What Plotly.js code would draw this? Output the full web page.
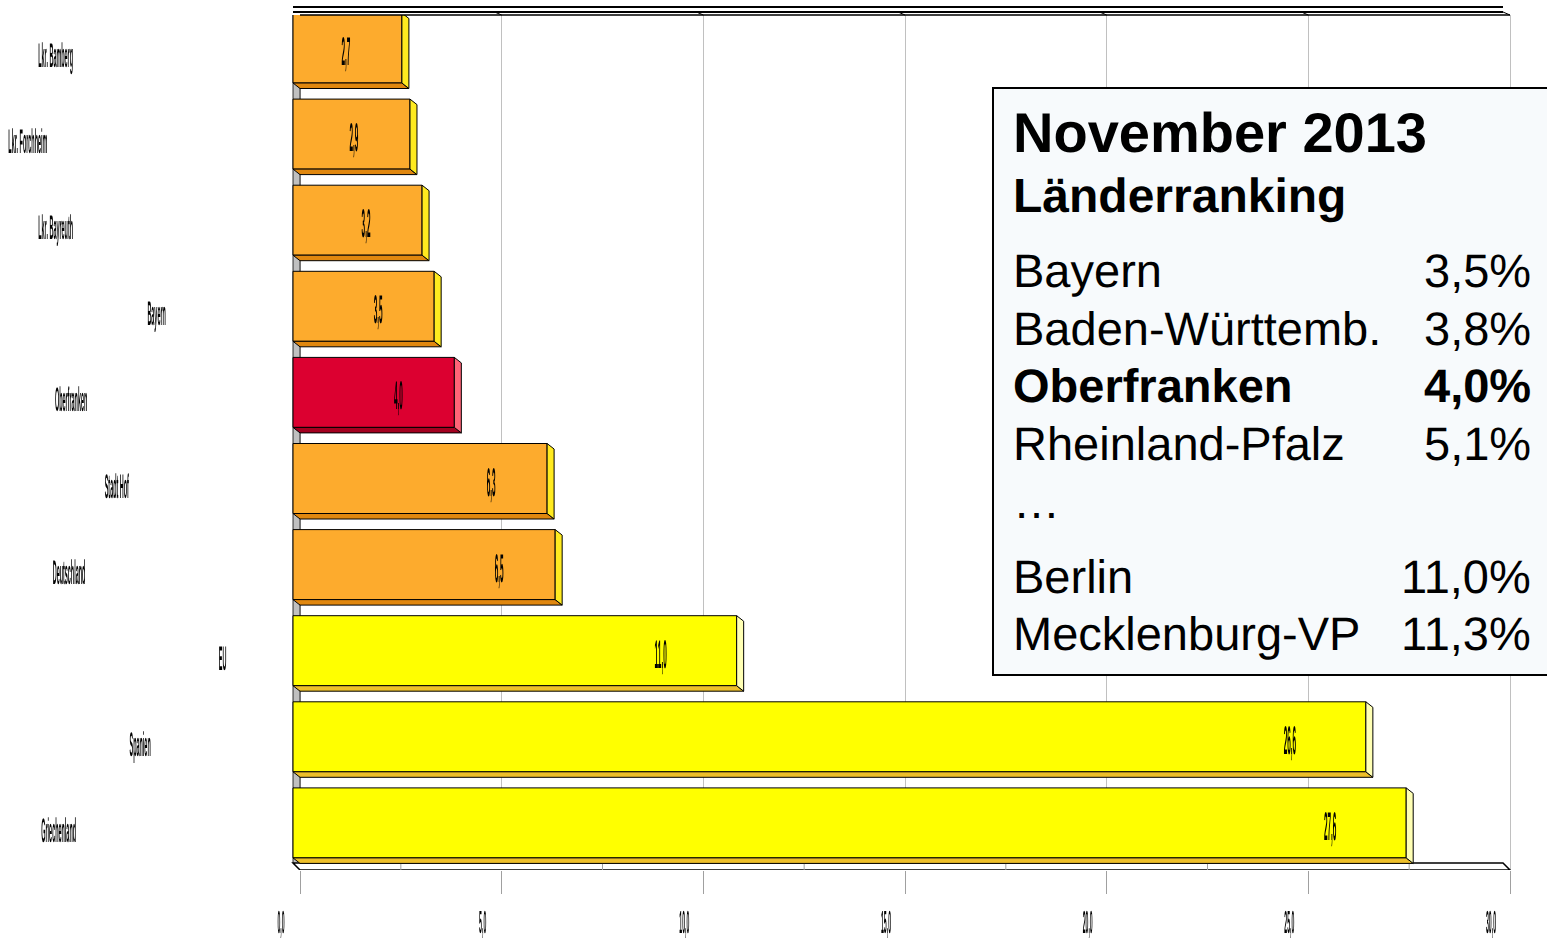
<!DOCTYPE html>
<html>
<head>
<meta charset="utf-8">
<script src="https://cdn.plot.ly/plotly-3.0.1.min.js"></script>
<style>
html,body{margin:0;padding:0;background:#fff;}
#chart{width:1547px;height:941px;}
#chart svg text{text-rendering:geometricPrecision;}
</style>
</head>
<body>
<div id="chart"></div>
<script>
// ---------------- DATA ----------------
const categories = ['Lkr. Bamberg','Lkr. Forchheim','Lkr. Bayreuth','Bayern','Oberfranken','Stadt Hof','Deutschland','EU','Spanien','Griechenland'];
const values = [2.7, 2.9, 3.2, 3.5, 4.0, 6.3, 6.5, 11.0, 26.6, 27.6];
const colorKeys = ['region','region','region','region','focus','region','region','intl','intl','intl'];
const xTickStep = 5;
const xMax = 30;

const rankingTitle = 'November 2013';
const rankingSubtitle = 'Länderranking';
const rankingNames = ['Bayern','Baden-Württemb.','Oberfranken','Rheinland-Pfalz','…','Berlin','Mecklenburg-VP'];
const rankingValues = [3.5, 3.8, 4.0, 5.1, null, 11.0, 11.3];
const rankingBold = [false, false, true, false, false, false, false];

// ---------------- STYLE ----------------
const palette = {
  region: {front:'#FDAB2D', side:'#FFEA1F', bottom:'#E0870F'},
  focus:  {front:'#DC0030', side:'#FF6478', bottom:'#A3001F'},
  intl:   {front:'#FFFF00', side:'#FFFFB4', bottom:'#EDBF2A'}
};
const catLabelCenterPx = [55, 28, 55, 156, 71, 117, 69, 222, 140, 58];
const rankingRowPx = [270, 328, 386, 443, 501, 576, 633];
const SQUASH = 0.16;

const W = 1547, H = 941;
const PLOT_L = 290, PLOT_R = 1515, PLOT_T = 15, PLOT_B = 870;
const X0PX = 300, PXU = 1210 / 30;
const ROW0PX = 48, ROWPX = 86.1;
const xRange = [(PLOT_L - X0PX) / PXU, (PLOT_R - X0PX) / PXU];
const yRange = [(PLOT_B - ROW0PX) / ROWPX, (PLOT_T - ROW0PX) / ROWPX];
const dX = 7 / PXU, dY = 5.5 / ROWPX, hh = 35 / ROWPX;
const fx = px => (px - PLOT_L) / (PLOT_R - PLOT_L);
const fy = py => 1 - (py - PLOT_T) / (PLOT_B - PLOT_T);
const yOfPx = py => (py - ROW0PX) / ROWPX;
const fmt = v => v.toFixed(1).replace('.', ',');

const idx = categories.map((c, i) => i);
const traces = [];

// bottom and side faces
idx.forEach(i => {
  const v = values[i], pal = palette[colorKeys[i]];
  const top = i - hh, bot = i + hh, xe = v - dX;
  traces.push({
    type:'scatter', mode:'lines', fill:'toself', fillcolor: pal.bottom,
    x:[-dX, xe, v, 0, -dX], y:[bot, bot, bot + dY, bot + dY, bot],
    line:{color:'#000', width:1}, hoverinfo:'skip', showlegend:false
  });
  traces.push({
    type:'scatter', mode:'lines', fill:'toself', fillcolor: pal.side,
    x:[xe, v, v, xe, xe], y:[top, top + dY, bot + dY, bot, top],
    line:{color:'#000', width:1}, hoverinfo:'skip', showlegend:false
  });
});

// front faces
traces.push({
  type:'bar', orientation:'h', y: idx, x: values, base: values.map(() => -dX),
  width: 2 * hh,
  marker:{color: colorKeys.map(k => palette[k].front), line:{color:'#000', width:1}},
  hoverinfo:'skip', showlegend:false, cliponaxis:false
});

// value labels
traces.push({
  type:'scatter', mode:'text',
  x: values.map(v => v - dX - (fmt(v).length > 3 ? 76 : 56) / PXU),
  y: idx.map(i => i + 7 / ROWPX),
  text: values.map(fmt), textposition:'middle center',
  textfont:{family:'Liberation Sans, Arial, sans-serif', size:40, color:'#000', weight:'bold'},
  hoverinfo:'skip', showlegend:false, cliponaxis:false
});

// ---------------- SHAPES ----------------
const shapes = [];
const yFront = yOfPx(863), yBack = yOfPx(PLOT_B);
const yTop0 = -hh;
shapes.push({type:'path', layer:'between', xref:'x', yref:'y',
  path:`M ${-dX},${yTop0} L 0,${yTop0 + dY} L 0,${yBack} L ${-dX},${yFront} Z`,
  fillcolor:'#C0C0C0', line:{color:'#000', width:0.8}});
shapes.push({type:'path', layer:'between', xref:'x', yref:'y',
  path:`M ${-dX},${yFront} L ${xMax - dX},${yFront} L ${xMax},${yBack} L 0,${yBack} Z`,
  fillcolor:'#FFFFFF', line:{color:'#000', width:1.5}});
for (let m = xTickStep / 2; m < xMax; m += xTickStep) {
  shapes.push({type:'line', layer:'between', xref:'x', yref:'y', x0:m, x1:m, y0:yFront, y1:yBack,
    line:{color:'#A0A0A0', width:1}});
}
shapes.push({type:'line', xref:'x', yref:'paper', x0:-dX, x1:xMax - dX, y0:fy(7), y1:fy(7), line:{color:'#000', width:2}});
shapes.push({type:'line', xref:'x', yref:'paper', x0:-dX, x1:xMax - dX, y0:fy(12), y1:fy(12), line:{color:'#000', width:2}});
shapes.push({type:'line', xref:'x', yref:'paper', x0:0, x1:xMax, y0:fy(15), y1:fy(15), line:{color:'#000', width:1.5}});
for (let g = xTickStep; g <= xMax; g += xTickStep) {
  shapes.push({type:'line', xref:'x', yref:'paper', x0:g - dX, x1:g, y0:fy(12), y1:fy(15), line:{color:'#000', width:1}});
}
shapes.push({type:'rect', layer:'above', xref:'paper', yref:'paper',
  x0:fx(993), x1:fx(1565), y0:fy(675), y1:fy(88),
  fillcolor:'#F7FAFC', line:{color:'#000', width:2}});

// ---------------- ANNOTATIONS ----------------
const ff = 'Liberation Sans, Arial, sans-serif';
const annotations = [];
categories.forEach((c, i) => {
  annotations.push({xref:'paper', yref:'y', x:fx(catLabelCenterPx[i]), y:i + 7 / ROWPX,
    xanchor:'center', yanchor:'middle', showarrow:false, text:'<b>' + c + '</b>',
    font:{family:ff, size:34, color:'#000'}});
});
annotations.push({xref:'paper', yref:'paper', x:fx(1011), y:fy(132), xanchor:'left', yanchor:'middle', showarrow:false,
  text:'<b>' + rankingTitle + '</b>', font:{family:ff, size:56, color:'#000'}});
annotations.push({xref:'paper', yref:'paper', x:fx(1011), y:fy(195), xanchor:'left', yanchor:'middle', showarrow:false,
  text:'<b>' + rankingSubtitle + '</b>', font:{family:ff, size:48, color:'#000'}});
rankingNames.forEach((n, k) => {
  const b = rankingBold[k];
  annotations.push({xref:'paper', yref:'paper', x:fx(1011), y:fy(rankingRowPx[k]), xanchor:'left', yanchor:'middle', showarrow:false,
    text: b ? '<b>' + n + '</b>' : n, font:{family:ff, size:47, color:'#000'}});
  if (rankingValues[k] !== null) {
    const t = fmt(rankingValues[k]) + '%';
    annotations.push({xref:'paper', yref:'paper', x:fx(1533), y:fy(rankingRowPx[k]), xanchor:'right', yanchor:'middle', showarrow:false,
      text: b ? '<b>' + t + '</b>' : t, font:{family:ff, size:47, color:'#000'}});
  }
});

const layout = {
  width:W, height:H,
  margin:{l:PLOT_L, r:W - PLOT_R, t:PLOT_T, b:H - PLOT_B, pad:0},
  paper_bgcolor:'#fff', plot_bgcolor:'#fff',
  separators:',.',
  showlegend:false,
  xaxis:{range:xRange, dtick:xTickStep, tick0:0, tickformat:'.1f',
    showgrid:true, gridcolor:'#C0C0C0', gridwidth:1, zeroline:false, showline:false,
    ticks:'outside', ticklen:23, tickcolor:'#A0A0A0', tickwidth:1,
    ticklabelstandoff:1, ticklabelshift:-19, automargin:false,
    tickfont:{family:ff, size:32, color:'#000', weight:'bold'}, fixedrange:true},
  yaxis:{range:yRange, showgrid:false, zeroline:false, showline:false, showticklabels:false, ticks:'', automargin:false, fixedrange:true},
  shapes: shapes,
  annotations: annotations,
  bargap:0
};

function squashEl(t, s) {
  const b = t.getBBox();
  const cx = b.x + b.width / 2;
  const prev = t.getAttribute('transform') || '';
  t.setAttribute('transform', prev + ' translate(' + cx + ',0) scale(' + s + ',1) translate(' + (-cx) + ',0)');
  t.style.opacity = '0.99';
  t.style.filter = 'grayscale(1)';
}

Plotly.newPlot('chart', traces, layout, {staticPlot:true, displayModeBar:false}).then(() => {
  document.querySelectorAll('#chart .xtick text').forEach(t => squashEl(t, SQUASH));
  document.querySelectorAll('#chart .scatterlayer .textpoint text').forEach(t => squashEl(t, SQUASH));
  document.querySelectorAll('#chart g.annotation').forEach(g => {
    const k = +g.getAttribute('data-index');
    if (k < categories.length) {
      const t = g.querySelector('text.annotation-text');
      if (t) squashEl(t, SQUASH);
    }
  });
});
</script>
</body>
</html>
